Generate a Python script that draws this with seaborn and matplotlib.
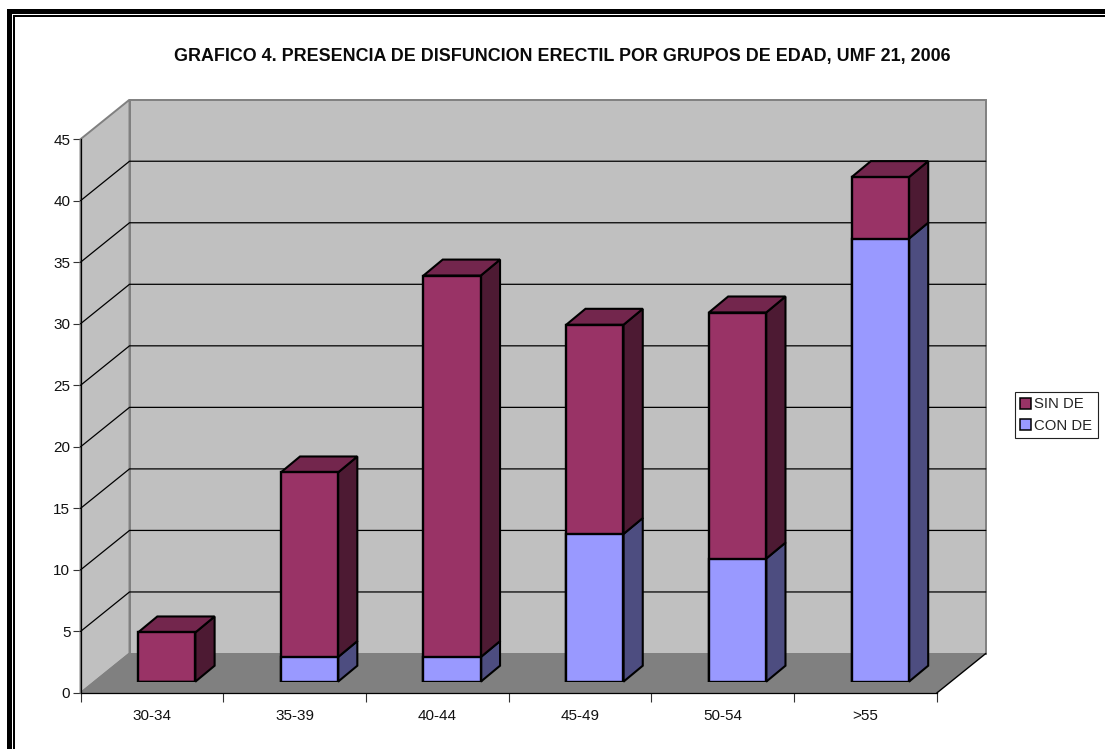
import matplotlib
matplotlib.use("Agg")
import matplotlib.pyplot as plt
from matplotlib.patches import Patch, Polygon, Rectangle
import seaborn as sns

# Survey counts per age group
age_groups = ["30-34", "35-39", "40-44", "45-49", "50-54", ">55"]
con_de = [0, 2, 2, 12, 10, 36]
sin_de = [4, 15, 31, 17, 20, 5]
y_ticks = [0, 5, 10, 15, 20, 25, 30, 35, 40, 45]
title = "GRAFICO 4. PRESENCIA DE DISFUNCION ERECTIL POR GRUPOS DE EDAD, UMF 21, 2006"

SIN_FRONT, SIN_SIDE, SIN_TOP = "#993366", "#4D1A33", "#73264D"
CON_FRONT, CON_SIDE = "#9999FF", "#4D4D80"
WALL, FLOOR, EDGE = "#C0C0C0", "#808080", "#808080"

sns.set_theme(style="white")
plt.rcParams["font.family"] = ["Liberation Sans", "DejaVu Sans"]

W, H = 1105, 749
fig = plt.figure(figsize=(W / 100, H / 100), dpi=100, facecolor="white")


def axes_from_pixels(left, top, right, bottom, **kw):
    return fig.add_axes([left / W, 1 - bottom / H, (right - left) / W, (bottom - top) / H], **kw)


# Double page rule: top and left sides only
frame = axes_from_pixels(0, 0, W, H, zorder=0)
frame.set_xlim(0, W)
frame.set_ylim(H, 0)
frame.axis("off")
for rect in [(7.3, 9.2, 4.7, H), (13.4, 15.0, 2.0, H), (7.3, 9.2, W, 4.8), (13.4, 15.0, W, 1.9)]:
    frame.add_patch(Rectangle(rect[:2], rect[2], rect[3], fc="black", ec="none"))

# Front plane of the box carries the value and category axes
PX_LEFT, PX_RIGHT, PX_TOP, PX_ZERO = 80.5, 936.8, 139.2, 693.0
ax = axes_from_pixels(PX_LEFT, PX_TOP, PX_RIGHT, PX_ZERO, zorder=1)
ax.patch.set_alpha(0)
n = len(age_groups)
x0, x1 = -0.5, n - 0.5
y1 = y_ticks[-1]
ax.set_xlim(x0, x1)
ax.set_ylim(0, y1)
px_x = (PX_RIGHT - PX_LEFT) / n
px_y = (PX_ZERO - PX_TOP) / y1

# Depth of the box, expressed in data units
dx = 49 / px_x
dy = 39.5 / px_y

ax.add_patch(Polygon([(x0 + dx, dy), (x1 + dx, dy), (x1 + dx, y1 + dy), (x0 + dx, y1 + dy)],
                     fc=WALL, ec=EDGE, lw=1.4, clip_on=False, zorder=1))
ax.add_patch(Polygon([(x0, 0), (x0 + dx, dy), (x0 + dx, y1 + dy), (x0, y1)],
                     fc=WALL, ec=EDGE, lw=1.4, clip_on=False, zorder=1))
ax.add_patch(Polygon([(x0, 0), (x1, 0), (x1 + dx, dy), (x0 + dx, dy)],
                     fc=FLOOR, ec="none", clip_on=False, zorder=2))
ax.plot([x0, x0 + dx], [0, dy], color=EDGE, lw=1.2, clip_on=False, zorder=3)
ax.plot([x1, x1 + dx], [0, dy], color="black", lw=1.0, clip_on=False, zorder=3)

for v in y_ticks[1:-1]:
    ax.plot([x0, x0 + dx, x1 + dx], [v, v + dy, v + dy], color="black", lw=0.9,
            clip_on=False, zorder=3, solid_joinstyle="miter")

for side in ("top", "right"):
    ax.spines[side].set_visible(False)
for side in ("left", "bottom"):
    ax.spines[side].set_color("black")
    ax.spines[side].set_linewidth(0.9)
    ax.spines[side].set_zorder(4)

ax.set_yticks(y_ticks)
ax.tick_params(axis="y", length=5.8, width=0.8, color="#333333", labelsize=11, pad=1.5,
               left=True, labelcolor="#111111")
ax.set_xticks([x0 + i for i in range(n + 1)])
ax.set_xticklabels([])
ax.set_xticks(range(n), age_groups, minor=True)
ax.tick_params(axis="x", which="major", length=6.5, width=0.8, color="#333333", bottom=True)
ax.tick_params(axis="x", which="minor", length=0, labelsize=11, pad=11.5, labelcolor="#111111")

# Bars stand a little inside the box, so they get a shifted copy of the same scales
SHIFT_X, SHIFT_Y = 14.8, 11.3
bars = axes_from_pixels(PX_LEFT + SHIFT_X, PX_TOP - SHIFT_Y, PX_RIGHT + SHIFT_X, PX_ZERO - SHIFT_Y, zorder=2)
bars.patch.set_alpha(0)
totals = [c + s for c, s in zip(con_de, sin_de)]
bar_w = 57.3 / px_x
sns.barplot(x=age_groups, y=totals, color=SIN_FRONT, saturation=1, width=bar_w,
            edgecolor="black", linewidth=1.7, ax=bars, zorder=5)
sns.barplot(x=age_groups, y=con_de, color=CON_FRONT, saturation=1, width=bar_w,
            edgecolor="black", linewidth=1.7, ax=bars, zorder=5)
bars.set_xlim(x0, x1)
bars.set_ylim(0, y1)
bars.axis("off")

bx = 19.3 / px_x
by = 16 / px_y
for i, (c, t) in enumerate(zip(con_de, totals)):
    left, right = i - bar_w / 2, i + bar_w / 2
    if c > 0:
        bars.add_patch(Polygon([(right, 0), (right + bx, by), (right + bx, c + by), (right, c)],
                               fc=CON_SIDE, ec="black", lw=1.5, clip_on=False, zorder=4))
    bars.add_patch(Polygon([(right, c), (right + bx, c + by), (right + bx, t + by), (right, t)],
                           fc=SIN_SIDE, ec="black", lw=1.5, clip_on=False, zorder=4))
    bars.add_patch(Polygon([(left, t), (left + bx, t + by), (right + bx, t + by), (right, t)],
                           fc=SIN_TOP, ec="black", lw=1.5, clip_on=False, zorder=4))

fig.text(562 / W, 1 - 57 / H, title, ha="center", va="center", fontsize=12.85,
         fontweight="bold", color="#0a0a0a")

legend = fig.legend(
    handles=[Patch(fc=SIN_FRONT, ec="black", lw=1.1, label="SIN DE"),
             Patch(fc=CON_FRONT, ec="black", lw=1.1, label="CON DE")],
    loc="center left", bbox_to_anchor=(1015 / W, 1 - 415 / H), bbox_transform=fig.transFigure,
    fontsize=10.7, frameon=True, fancybox=False, edgecolor="#222222", framealpha=1,
    borderpad=0.35, borderaxespad=0, handlelength=0.75, handleheight=0.75,
    handletextpad=0.2, labelspacing=0.5,
)
legend.get_frame().set_linewidth(0.8)
legend.set_zorder(10)

fig.savefig("out.png", dpi=100)
